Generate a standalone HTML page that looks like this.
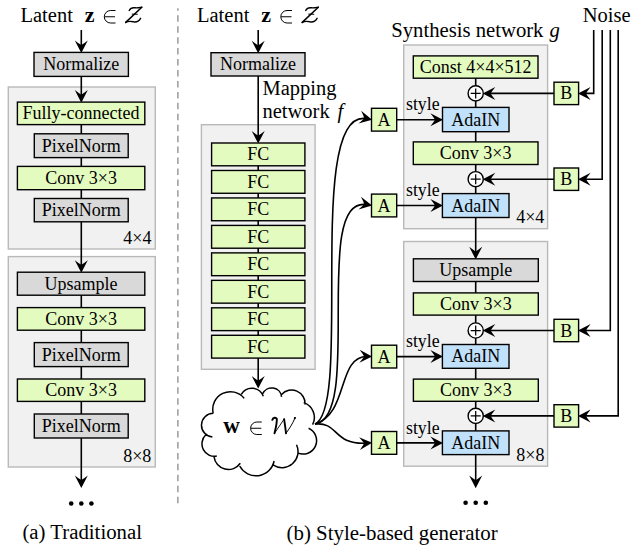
<!DOCTYPE html>
<html><head><meta charset="utf-8"><style>
html,body{margin:0;padding:0;background:#fff;}
svg{display:block;font-family:"Liberation Serif", serif;}
</style></head><body>
<svg width="634" height="549" viewBox="0 0 634 549">
<rect width="634" height="549" fill="#fff"/>
<text x="20.50" y="22.20" font-size="20.5" text-anchor="start" font-weight="normal" font-style="normal" fill="#000" >Latent</text>
<text x="84.70" y="22.20" font-size="22" text-anchor="start" font-weight="bold" font-style="normal" fill="#000" >z</text>
<path d="M115.50,10.50 H110.55 A6.25,6.25 0 0 0 110.55,23.00 H115.50 M104.50,16.75 H115.00" fill="none" stroke="#000" stroke-width="1.0"/>
<path d="M129.20,10.50 C130.50,8.00 133.00,7.50 135.00,7.80 C137.50,8.20 140.00,7.50 141.80,7.20" fill="none" stroke="#000" stroke-width="1.4" stroke-linecap="round"/>
<path d="M141.80,7.20 L125.70,22.40" fill="none" stroke="#000" stroke-width="1.5" stroke-linecap="round"/>
<path d="M125.70,22.40 C128.00,21.20 131.00,21.20 133.50,21.80 C136.50,22.40 139.00,21.00 140.60,18.30" fill="none" stroke="#000" stroke-width="1.4" stroke-linecap="round"/>
<path d="M131.80,14.10 L137.70,14.30" fill="none" stroke="#000" stroke-width="1.0"/>
<line x1="81.30" y1="30.00" x2="81.30" y2="46.40" stroke="#000" stroke-width="1.6"/>
<path transform="translate(81.30,52.40) rotate(90.0)" d="M0.6,0 L-12.0,-6.5 Q-8.6,-2.2 -7.4,0 Q-8.6,2.2 -12.0,6.5 Z" fill="#000"/>
<rect x="34.00" y="52.40" width="94.40" height="24.00" fill="#d9d9d9" stroke="#000" stroke-width="1.4"/>
<text x="81.20" y="70.40" font-size="18" text-anchor="middle" font-weight="normal" font-style="normal" fill="#000" >Normalize</text>
<rect x="8.30" y="87.00" width="147.00" height="162.00" fill="#f1f1f1" stroke="#b9b9b9" stroke-width="1.4"/>
<rect x="8.30" y="256.60" width="147.00" height="210.40" fill="#f1f1f1" stroke="#b9b9b9" stroke-width="1.4"/>
<line x1="81.30" y1="76.40" x2="81.30" y2="96.00" stroke="#000" stroke-width="1.6"/>
<path transform="translate(81.30,102.10) rotate(90)" d="M0.6,0 L-12.0,-6.5 Q-8.6,-2.2 -7.4,0 Q-8.6,2.2 -12.0,6.5 Z" fill="#000"/>
<line x1="81.30" y1="124.60" x2="81.30" y2="266.00" stroke="#000" stroke-width="1.6"/>
<path transform="translate(81.30,272.20) rotate(90)" d="M0.6,0 L-12.0,-6.5 Q-8.6,-2.2 -7.4,0 Q-8.6,2.2 -12.0,6.5 Z" fill="#000"/>
<line x1="81.30" y1="295.00" x2="81.30" y2="481.00" stroke="#000" stroke-width="1.6"/>
<path transform="translate(81.30,487.50) rotate(90)" d="M0.6,0 L-12.0,-6.5 Q-8.6,-2.2 -7.4,0 Q-8.6,2.2 -12.0,6.5 Z" fill="#000"/>
<rect x="17.40" y="102.10" width="127.40" height="22.50" fill="#e4fbbf" stroke="#000" stroke-width="1.4"/>
<text x="81.10" y="119.35" font-size="18" text-anchor="middle" font-weight="normal" font-style="normal" fill="#000" >Fully-connected</text>
<rect x="34.30" y="133.80" width="93.90" height="23.80" fill="#d9d9d9" stroke="#000" stroke-width="1.4"/>
<text x="81.25" y="151.70" font-size="18" text-anchor="middle" font-weight="normal" font-style="normal" fill="#000" >PixelNorm</text>
<rect x="17.40" y="166.40" width="127.40" height="23.30" fill="#e4fbbf" stroke="#000" stroke-width="1.4"/>
<text x="81.10" y="184.05" font-size="18" text-anchor="middle" font-weight="normal" font-style="normal" fill="#000" >Conv 3×3</text>
<rect x="34.30" y="198.50" width="93.90" height="23.30" fill="#d9d9d9" stroke="#000" stroke-width="1.4"/>
<text x="81.25" y="216.15" font-size="18" text-anchor="middle" font-weight="normal" font-style="normal" fill="#000" >PixelNorm</text>
<text x="151.40" y="243.90" font-size="18" text-anchor="end" font-weight="normal" font-style="normal" fill="#000" >4×4</text>
<rect x="17.40" y="272.20" width="127.40" height="23.00" fill="#d9d9d9" stroke="#000" stroke-width="1.4"/>
<text x="81.10" y="289.70" font-size="18" text-anchor="middle" font-weight="normal" font-style="normal" fill="#000" >Upsample</text>
<rect x="17.40" y="307.60" width="127.40" height="22.60" fill="#e4fbbf" stroke="#000" stroke-width="1.4"/>
<text x="81.10" y="324.90" font-size="18" text-anchor="middle" font-weight="normal" font-style="normal" fill="#000" >Conv 3×3</text>
<rect x="34.30" y="342.60" width="93.90" height="24.00" fill="#d9d9d9" stroke="#000" stroke-width="1.4"/>
<text x="81.25" y="360.60" font-size="18" text-anchor="middle" font-weight="normal" font-style="normal" fill="#000" >PixelNorm</text>
<rect x="17.40" y="379.00" width="127.40" height="22.40" fill="#e4fbbf" stroke="#000" stroke-width="1.4"/>
<text x="81.10" y="396.20" font-size="18" text-anchor="middle" font-weight="normal" font-style="normal" fill="#000" >Conv 3×3</text>
<rect x="34.30" y="414.00" width="93.90" height="24.00" fill="#d9d9d9" stroke="#000" stroke-width="1.4"/>
<text x="81.25" y="432.00" font-size="18" text-anchor="middle" font-weight="normal" font-style="normal" fill="#000" >PixelNorm</text>
<text x="151.30" y="461.50" font-size="18" text-anchor="end" font-weight="normal" font-style="normal" fill="#000" >8×8</text>
<circle cx="71.20" cy="503.5" r="2.3" fill="#000"/>
<circle cx="81.30" cy="503.5" r="2.3" fill="#000"/>
<circle cx="91.40" cy="503.5" r="2.3" fill="#000"/>
<text x="22.40" y="538.80" font-size="20.8" text-anchor="start" font-weight="normal" font-style="normal" fill="#000" >(a) Traditional</text>
<line x1="177.9" y1="8.2" x2="177.9" y2="503.3" stroke="#8a8a8a" stroke-width="1.3" stroke-dasharray="6.5,4.44" stroke-dashoffset="3.84"/>
<text x="197.00" y="22.20" font-size="20.5" text-anchor="start" font-weight="normal" font-style="normal" fill="#000" >Latent</text>
<text x="261.20" y="22.20" font-size="22" text-anchor="start" font-weight="bold" font-style="normal" fill="#000" >z</text>
<path d="M292.00,10.50 H287.05 A6.25,6.25 0 0 0 287.05,23.00 H292.00 M281.00,16.75 H291.50" fill="none" stroke="#000" stroke-width="1.0"/>
<path d="M305.70,10.50 C307.00,8.00 309.50,7.50 311.50,7.80 C314.00,8.20 316.50,7.50 318.30,7.20" fill="none" stroke="#000" stroke-width="1.4" stroke-linecap="round"/>
<path d="M318.30,7.20 L302.20,22.40" fill="none" stroke="#000" stroke-width="1.5" stroke-linecap="round"/>
<path d="M302.20,22.40 C304.50,21.20 307.50,21.20 310.00,21.80 C313.00,22.40 315.50,21.00 317.10,18.30" fill="none" stroke="#000" stroke-width="1.4" stroke-linecap="round"/>
<path d="M308.30,14.10 L314.20,14.30" fill="none" stroke="#000" stroke-width="1.0"/>
<line x1="258.20" y1="30.00" x2="258.20" y2="46.70" stroke="#000" stroke-width="1.6"/>
<path transform="translate(258.20,52.70) rotate(90.0)" d="M0.6,0 L-12.0,-6.5 Q-8.6,-2.2 -7.4,0 Q-8.6,2.2 -12.0,6.5 Z" fill="#000"/>
<rect x="211.00" y="52.70" width="94.00" height="23.30" fill="#d9d9d9" stroke="#000" stroke-width="1.4"/>
<text x="258.00" y="70.35" font-size="18" text-anchor="middle" font-weight="normal" font-style="normal" fill="#000" >Normalize</text>
<text x="262.50" y="95.00" font-size="20.5" text-anchor="start" font-weight="normal" font-style="normal" fill="#000" >Mapping</text>
<text x="262.50" y="118.00" font-size="20.5" text-anchor="start" font-weight="normal" font-style="normal" fill="#000" >network</text>
<text x="337.50" y="118.00" font-size="20.5" text-anchor="start" font-weight="normal" font-style="italic" fill="#000" >f</text>
<rect x="201.40" y="124.70" width="113.70" height="244.60" fill="#f1f1f1" stroke="#b9b9b9" stroke-width="1.4"/>
<line x1="258.20" y1="76.00" x2="258.20" y2="137.00" stroke="#000" stroke-width="1.6"/>
<path transform="translate(258.20,143.00) rotate(90)" d="M0.6,0 L-12.0,-6.5 Q-8.6,-2.2 -7.4,0 Q-8.6,2.2 -12.0,6.5 Z" fill="#000"/>
<line x1="258.20" y1="143.00" x2="258.20" y2="382.00" stroke="#000" stroke-width="1.6"/>
<rect x="211.60" y="143.00" width="93.30" height="22.80" fill="#e4fbbf" stroke="#000" stroke-width="1.4"/>
<text x="258.25" y="160.40" font-size="18" text-anchor="middle" font-weight="normal" font-style="normal" fill="#000" >FC</text>
<rect x="211.60" y="170.47" width="93.30" height="22.80" fill="#e4fbbf" stroke="#000" stroke-width="1.4"/>
<text x="258.25" y="187.87" font-size="18" text-anchor="middle" font-weight="normal" font-style="normal" fill="#000" >FC</text>
<rect x="211.60" y="197.94" width="93.30" height="22.80" fill="#e4fbbf" stroke="#000" stroke-width="1.4"/>
<text x="258.25" y="215.34" font-size="18" text-anchor="middle" font-weight="normal" font-style="normal" fill="#000" >FC</text>
<rect x="211.60" y="225.41" width="93.30" height="22.80" fill="#e4fbbf" stroke="#000" stroke-width="1.4"/>
<text x="258.25" y="242.81" font-size="18" text-anchor="middle" font-weight="normal" font-style="normal" fill="#000" >FC</text>
<rect x="211.60" y="252.88" width="93.30" height="22.80" fill="#e4fbbf" stroke="#000" stroke-width="1.4"/>
<text x="258.25" y="270.28" font-size="18" text-anchor="middle" font-weight="normal" font-style="normal" fill="#000" >FC</text>
<rect x="211.60" y="280.35" width="93.30" height="22.80" fill="#e4fbbf" stroke="#000" stroke-width="1.4"/>
<text x="258.25" y="297.75" font-size="18" text-anchor="middle" font-weight="normal" font-style="normal" fill="#000" >FC</text>
<rect x="211.60" y="307.82" width="93.30" height="22.80" fill="#e4fbbf" stroke="#000" stroke-width="1.4"/>
<text x="258.25" y="325.22" font-size="18" text-anchor="middle" font-weight="normal" font-style="normal" fill="#000" >FC</text>
<rect x="211.60" y="335.29" width="93.30" height="22.80" fill="#e4fbbf" stroke="#000" stroke-width="1.4"/>
<text x="258.25" y="352.69" font-size="18" text-anchor="middle" font-weight="normal" font-style="normal" fill="#000" >FC</text>
<path transform="translate(258.20,388.00) rotate(90)" d="M0.6,0 L-12.0,-6.5 Q-8.6,-2.2 -7.4,0 Q-8.6,2.2 -12.0,6.5 Z" fill="#000"/>
<text x="286.50" y="539.50" font-size="20.9" text-anchor="start" font-weight="normal" font-style="normal" fill="#000" >(b) Style-based generator</text>
<path d="M213.20,413.30 A17.62,17.62 0 0 1 244.20,398.40 M241.30,394.40 A12.16,12.16 0 0 1 263.30,396.30 M262.70,393.80 A9.91,9.91 0 0 1 281.60,396.90 M281.60,394.40 A13.48,13.48 0 0 1 305.00,404.50 M303.70,402.60 A15.70,15.70 0 0 1 312.60,424.70 M308.60,428.30 A13.47,13.47 0 0 1 297.60,452.90 M296.50,444.70 A16.06,16.06 0 0 1 273.00,464.90 M274.10,461.00 A18.45,18.45 0 0 1 239.70,466.00 M240.30,463.30 A14.49,14.49 0 0 1 214.00,456.70 M216.80,456.10 A12.51,12.51 0 0 1 205.80,434.80 M212.40,437.00 A11.87,11.87 0 0 1 213.20,413.30" fill="none" stroke="#000" stroke-width="1.5"/>
<text x="223.20" y="433.20" font-size="23" text-anchor="start" font-weight="bold" font-style="normal" fill="#000" >w</text>
<path d="M261.80,422.00 H256.85 A6.25,6.25 0 0 0 256.85,434.50 H261.80 M250.80,428.25 H261.30" fill="none" stroke="#000" stroke-width="1.0"/>
<path d="M272.30,419.80 C273.30,417.50 275.80,417.10 276.80,418.80 C277.10,423.30 275.50,429.30 274.50,433.30" fill="none" stroke="#000" stroke-width="1.9" stroke-linecap="round"/>
<path d="M274.50,433.30 L284.10,419.10" fill="none" stroke="#000" stroke-width="0.9" stroke-linecap="round"/>
<path d="M284.10,419.10 C284.90,424.30 285.60,429.30 286.00,433.30" fill="none" stroke="#000" stroke-width="1.9" stroke-linecap="round"/>
<path d="M286.00,433.30 C289.30,428.80 292.80,423.30 294.60,418.80 C295.10,417.50 295.30,417.10 294.80,417.80" fill="none" stroke="#000" stroke-width="1.0" stroke-linecap="round"/>
<circle cx="294.90" cy="418.10" r="1.1" fill="#000"/>
<path d="M315,424 C353.4,406.4 303.9,105.1 367.5,118.83609467455622" fill="none" stroke="#000" stroke-width="1.6"/>
<path transform="translate(371.50,119.70) rotate(12.18733753291709)" d="M0.6,0 L-12.0,-6.5 Q-8.6,-2.2 -7.4,0 Q-8.6,2.2 -12.0,6.5 Z" fill="#000"/>
<path d="M315,424 C363.8,417.4 310.6,193.8 367.5,204.73152709359607" fill="none" stroke="#000" stroke-width="1.6"/>
<path transform="translate(371.50,205.50) rotate(10.87505824799411)" d="M0.6,0 L-12.0,-6.5 Q-8.6,-2.2 -7.4,0 Q-8.6,2.2 -12.0,6.5 Z" fill="#000"/>
<path d="M315,424 C349.0,414.1 336.8,355.8 367.5,356.5077809798271" fill="none" stroke="#000" stroke-width="1.6"/>
<path transform="translate(371.50,356.60) rotate(1.3207062001603964)" d="M0.6,0 L-12.0,-6.5 Q-8.6,-2.2 -7.4,0 Q-8.6,2.2 -12.0,6.5 Z" fill="#000"/>
<path d="M315,424 C339.3,421.7 332.2,445.3 367.5,443.14427480916027" fill="none" stroke="#000" stroke-width="1.6"/>
<path transform="translate(371.50,442.90) rotate(-3.4946389272533858)" d="M0.6,0 L-12.0,-6.5 Q-8.6,-2.2 -7.4,0 Q-8.6,2.2 -12.0,6.5 Z" fill="#000"/>
<text x="391.20" y="37.20" font-size="20.7" text-anchor="start" font-weight="normal" font-style="normal" fill="#000" >Synthesis network</text>
<text x="549.50" y="37.20" font-size="20.7" text-anchor="start" font-weight="normal" font-style="italic" fill="#000" >g</text>
<text x="582.80" y="22.00" font-size="20.5" text-anchor="start" font-weight="normal" font-style="normal" fill="#000" >Noise</text>
<rect x="403.70" y="45.00" width="143.90" height="183.70" fill="#f1f1f1" stroke="#b9b9b9" stroke-width="1.4"/>
<rect x="403.70" y="241.50" width="143.90" height="224.70" fill="#f1f1f1" stroke="#b9b9b9" stroke-width="1.4"/>
<line x1="475.70" y1="78.00" x2="475.70" y2="107.40" stroke="#000" stroke-width="1.6"/>
<line x1="475.70" y1="131.70" x2="475.70" y2="141.90" stroke="#000" stroke-width="1.6"/>
<line x1="475.70" y1="164.50" x2="475.70" y2="193.60" stroke="#000" stroke-width="1.6"/>
<line x1="475.70" y1="217.50" x2="475.70" y2="252.50" stroke="#000" stroke-width="1.6"/>
<path transform="translate(475.70,258.80) rotate(90)" d="M0.6,0 L-12.0,-6.5 Q-8.6,-2.2 -7.4,0 Q-8.6,2.2 -12.0,6.5 Z" fill="#000"/>
<line x1="475.70" y1="281.50" x2="475.70" y2="292.90" stroke="#000" stroke-width="1.6"/>
<line x1="475.70" y1="315.10" x2="475.70" y2="344.50" stroke="#000" stroke-width="1.6"/>
<line x1="475.70" y1="368.30" x2="475.70" y2="379.10" stroke="#000" stroke-width="1.6"/>
<line x1="475.70" y1="401.30" x2="475.70" y2="430.90" stroke="#000" stroke-width="1.6"/>
<line x1="475.70" y1="454.60" x2="475.70" y2="481.50" stroke="#000" stroke-width="1.6"/>
<path transform="translate(475.70,487.60) rotate(90)" d="M0.6,0 L-12.0,-6.5 Q-8.6,-2.2 -7.4,0 Q-8.6,2.2 -12.0,6.5 Z" fill="#000"/>
<rect x="413.30" y="55.90" width="124.70" height="22.30" fill="#e4fbbf" stroke="#000" stroke-width="1.4"/>
<text x="475.65" y="73.05" font-size="18" text-anchor="middle" font-weight="normal" font-style="normal" fill="#000" >Const 4×4×512</text>
<rect x="442.50" y="107.40" width="66.50" height="24.30" fill="#c0e1f9" stroke="#000" stroke-width="1.4"/>
<text x="475.75" y="125.55" font-size="18" text-anchor="middle" font-weight="normal" font-style="normal" fill="#000" >AdaIN</text>
<rect x="413.30" y="141.90" width="124.70" height="22.60" fill="#e4fbbf" stroke="#000" stroke-width="1.4"/>
<text x="475.65" y="159.20" font-size="18" text-anchor="middle" font-weight="normal" font-style="normal" fill="#000" >Conv 3×3</text>
<rect x="442.40" y="193.60" width="66.60" height="23.90" fill="#c0e1f9" stroke="#000" stroke-width="1.4"/>
<text x="475.70" y="211.55" font-size="18" text-anchor="middle" font-weight="normal" font-style="normal" fill="#000" >AdaIN</text>
<text x="544.30" y="222.60" font-size="18" text-anchor="end" font-weight="normal" font-style="normal" fill="#000" >4×4</text>
<rect x="413.40" y="258.80" width="124.90" height="22.70" fill="#d9d9d9" stroke="#000" stroke-width="1.4"/>
<text x="475.85" y="276.15" font-size="18" text-anchor="middle" font-weight="normal" font-style="normal" fill="#000" >Upsample</text>
<rect x="413.40" y="292.90" width="124.90" height="22.20" fill="#e4fbbf" stroke="#000" stroke-width="1.4"/>
<text x="475.85" y="310.00" font-size="18" text-anchor="middle" font-weight="normal" font-style="normal" fill="#000" >Conv 3×3</text>
<rect x="442.40" y="344.50" width="66.60" height="23.80" fill="#c0e1f9" stroke="#000" stroke-width="1.4"/>
<text x="475.70" y="362.40" font-size="18" text-anchor="middle" font-weight="normal" font-style="normal" fill="#000" >AdaIN</text>
<rect x="413.40" y="379.10" width="124.90" height="22.20" fill="#e4fbbf" stroke="#000" stroke-width="1.4"/>
<text x="475.85" y="396.20" font-size="18" text-anchor="middle" font-weight="normal" font-style="normal" fill="#000" >Conv 3×3</text>
<rect x="442.40" y="430.90" width="66.60" height="23.70" fill="#c0e1f9" stroke="#000" stroke-width="1.4"/>
<text x="475.70" y="448.75" font-size="18" text-anchor="middle" font-weight="normal" font-style="normal" fill="#000" >AdaIN</text>
<text x="544.40" y="460.90" font-size="18" text-anchor="end" font-weight="normal" font-style="normal" fill="#000" >8×8</text>
<circle cx="465.60" cy="502.8" r="2.3" fill="#000"/>
<circle cx="475.70" cy="502.8" r="2.3" fill="#000"/>
<circle cx="485.80" cy="502.8" r="2.3" fill="#000"/>
<circle cx="475.7" cy="93.4" r="7.6" fill="#fff" stroke="#000" stroke-width="1.4"/>
<path d="M470.68,93.4 H480.72 M475.7,88.38 V98.42" stroke="#000" stroke-width="1.25"/>
<circle cx="475.7" cy="179.2" r="7.6" fill="#fff" stroke="#000" stroke-width="1.4"/>
<path d="M470.68,179.2 H480.72 M475.7,174.18 V184.22" stroke="#000" stroke-width="1.25"/>
<circle cx="475.7" cy="330.5" r="7.6" fill="#fff" stroke="#000" stroke-width="1.4"/>
<path d="M470.68,330.5 H480.72 M475.7,325.48 V335.52" stroke="#000" stroke-width="1.25"/>
<circle cx="475.7" cy="415.9" r="7.6" fill="#fff" stroke="#000" stroke-width="1.4"/>
<path d="M470.68,415.9 H480.72 M475.7,410.88 V420.92" stroke="#000" stroke-width="1.25"/>
<rect x="554.00" y="82.20" width="24.60" height="22.40" fill="#e4fbbf" stroke="#000" stroke-width="1.4"/>
<text x="566.30" y="99.40" font-size="18" text-anchor="middle" font-weight="normal" font-style="normal" fill="#000" >B</text>
<line x1="554.00" y1="93.40" x2="489.30" y2="93.40" stroke="#000" stroke-width="1.6"/>
<path transform="translate(483.30,93.40) rotate(180.0)" d="M0.6,0 L-12.0,-6.5 Q-8.6,-2.2 -7.4,0 Q-8.6,2.2 -12.0,6.5 Z" fill="#000"/>
<polyline points="593.7,30 593.7,93.4 584.6,93.4" fill="none" stroke="#000" stroke-width="1.6"/>
<path transform="translate(578.60,93.40) rotate(180)" d="M0.6,0 L-12.0,-6.5 Q-8.6,-2.2 -7.4,0 Q-8.6,2.2 -12.0,6.5 Z" fill="#000"/>
<rect x="554.00" y="168.00" width="24.60" height="22.40" fill="#e4fbbf" stroke="#000" stroke-width="1.4"/>
<text x="566.30" y="185.20" font-size="18" text-anchor="middle" font-weight="normal" font-style="normal" fill="#000" >B</text>
<line x1="554.00" y1="179.20" x2="489.30" y2="179.20" stroke="#000" stroke-width="1.6"/>
<path transform="translate(483.30,179.20) rotate(180.0)" d="M0.6,0 L-12.0,-6.5 Q-8.6,-2.2 -7.4,0 Q-8.6,2.2 -12.0,6.5 Z" fill="#000"/>
<polyline points="602.2,30 602.2,179.2 584.6,179.2" fill="none" stroke="#000" stroke-width="1.6"/>
<path transform="translate(578.60,179.20) rotate(180)" d="M0.6,0 L-12.0,-6.5 Q-8.6,-2.2 -7.4,0 Q-8.6,2.2 -12.0,6.5 Z" fill="#000"/>
<rect x="554.00" y="319.30" width="24.60" height="22.40" fill="#e4fbbf" stroke="#000" stroke-width="1.4"/>
<text x="566.30" y="336.50" font-size="18" text-anchor="middle" font-weight="normal" font-style="normal" fill="#000" >B</text>
<line x1="554.00" y1="330.50" x2="489.30" y2="330.50" stroke="#000" stroke-width="1.6"/>
<path transform="translate(483.30,330.50) rotate(180.0)" d="M0.6,0 L-12.0,-6.5 Q-8.6,-2.2 -7.4,0 Q-8.6,2.2 -12.0,6.5 Z" fill="#000"/>
<polyline points="610.3,30 610.3,330.5 584.6,330.5" fill="none" stroke="#000" stroke-width="1.6"/>
<path transform="translate(578.60,330.50) rotate(180)" d="M0.6,0 L-12.0,-6.5 Q-8.6,-2.2 -7.4,0 Q-8.6,2.2 -12.0,6.5 Z" fill="#000"/>
<rect x="554.00" y="404.70" width="24.60" height="22.40" fill="#e4fbbf" stroke="#000" stroke-width="1.4"/>
<text x="566.30" y="421.90" font-size="18" text-anchor="middle" font-weight="normal" font-style="normal" fill="#000" >B</text>
<line x1="554.00" y1="415.90" x2="489.30" y2="415.90" stroke="#000" stroke-width="1.6"/>
<path transform="translate(483.30,415.90) rotate(180.0)" d="M0.6,0 L-12.0,-6.5 Q-8.6,-2.2 -7.4,0 Q-8.6,2.2 -12.0,6.5 Z" fill="#000"/>
<polyline points="618.2,30 618.2,415.9 584.6,415.9" fill="none" stroke="#000" stroke-width="1.6"/>
<path transform="translate(578.60,415.90) rotate(180)" d="M0.6,0 L-12.0,-6.5 Q-8.6,-2.2 -7.4,0 Q-8.6,2.2 -12.0,6.5 Z" fill="#000"/>
<rect x="371.50" y="108.30" width="25.20" height="22.80" fill="#e4fbbf" stroke="#000" stroke-width="1.4"/>
<text x="384.10" y="125.70" font-size="18" text-anchor="middle" font-weight="normal" font-style="normal" fill="#000" >A</text>
<line x1="396.70" y1="119.70" x2="436.40" y2="119.70" stroke="#000" stroke-width="1.6"/>
<path transform="translate(442.40,119.70) rotate(0.0)" d="M0.6,0 L-12.0,-6.5 Q-8.6,-2.2 -7.4,0 Q-8.6,2.2 -12.0,6.5 Z" fill="#000"/>
<text x="406.00" y="110.30" font-size="17.8" text-anchor="start" font-weight="normal" font-style="normal" fill="#000" >style</text>
<rect x="371.50" y="194.10" width="25.20" height="22.80" fill="#e4fbbf" stroke="#000" stroke-width="1.4"/>
<text x="384.10" y="211.50" font-size="18" text-anchor="middle" font-weight="normal" font-style="normal" fill="#000" >A</text>
<line x1="396.70" y1="205.50" x2="436.40" y2="205.50" stroke="#000" stroke-width="1.6"/>
<path transform="translate(442.40,205.50) rotate(0.0)" d="M0.6,0 L-12.0,-6.5 Q-8.6,-2.2 -7.4,0 Q-8.6,2.2 -12.0,6.5 Z" fill="#000"/>
<text x="406.00" y="196.10" font-size="17.8" text-anchor="start" font-weight="normal" font-style="normal" fill="#000" >style</text>
<rect x="371.50" y="345.20" width="25.20" height="22.80" fill="#e4fbbf" stroke="#000" stroke-width="1.4"/>
<text x="384.10" y="362.60" font-size="18" text-anchor="middle" font-weight="normal" font-style="normal" fill="#000" >A</text>
<line x1="396.70" y1="356.60" x2="436.40" y2="356.60" stroke="#000" stroke-width="1.6"/>
<path transform="translate(442.40,356.60) rotate(0.0)" d="M0.6,0 L-12.0,-6.5 Q-8.6,-2.2 -7.4,0 Q-8.6,2.2 -12.0,6.5 Z" fill="#000"/>
<text x="406.00" y="347.20" font-size="17.8" text-anchor="start" font-weight="normal" font-style="normal" fill="#000" >style</text>
<rect x="371.50" y="431.50" width="25.20" height="22.80" fill="#e4fbbf" stroke="#000" stroke-width="1.4"/>
<text x="384.10" y="448.90" font-size="18" text-anchor="middle" font-weight="normal" font-style="normal" fill="#000" >A</text>
<line x1="396.70" y1="442.90" x2="436.40" y2="442.90" stroke="#000" stroke-width="1.6"/>
<path transform="translate(442.40,442.90) rotate(0.0)" d="M0.6,0 L-12.0,-6.5 Q-8.6,-2.2 -7.4,0 Q-8.6,2.2 -12.0,6.5 Z" fill="#000"/>
<text x="406.00" y="433.50" font-size="17.8" text-anchor="start" font-weight="normal" font-style="normal" fill="#000" >style</text>
</svg></body></html>
